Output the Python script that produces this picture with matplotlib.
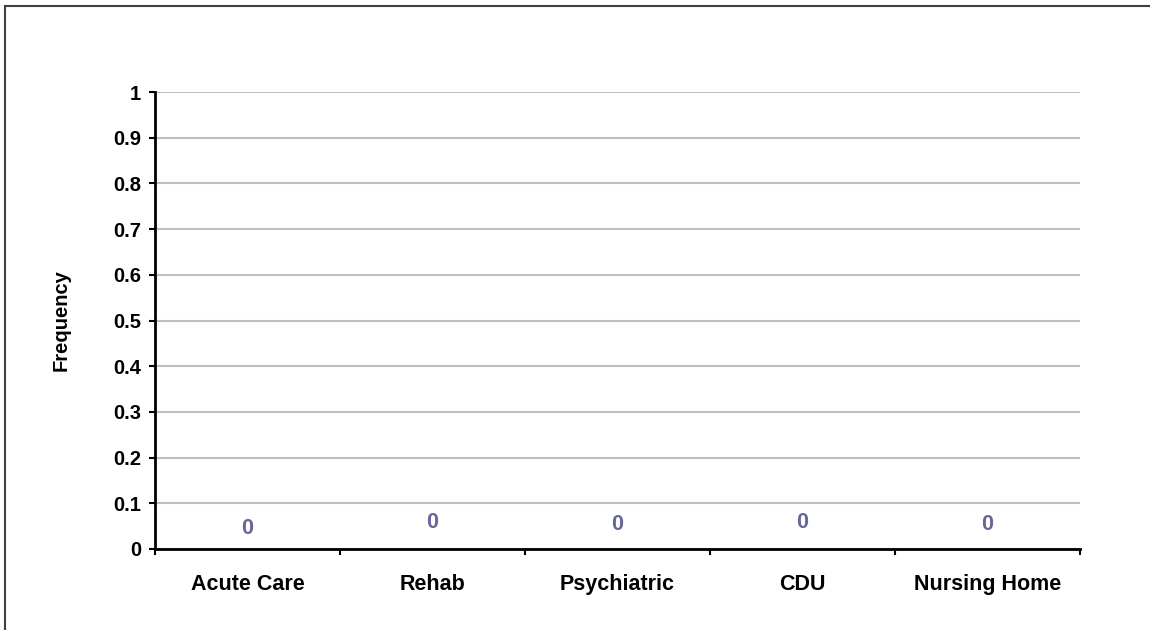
import numpy as np
import matplotlib.pyplot as plt
from matplotlib.patches import Rectangle

# chart data
categories = ['Acute Care', 'Rehab', 'Psychiatric', 'CDU', 'Nursing Home']
frequency = [0, 0, 0, 0, 0]
y_ticks = [0, 0.1, 0.2, 0.3, 0.4, 0.5, 0.6, 0.7, 0.8, 0.9, 1]
y_tick_labels = ['0', '0.1', '0.2', '0.3', '0.4', '0.5', '0.6', '0.7', '0.8', '0.9', '1']

plt.rcParams['font.family'] = ['Liberation Sans', 'DejaVu Sans']
plt.rcParams['font.weight'] = 'bold'

fig = plt.figure(figsize=(11.5, 6.3), dpi=100)
ax = fig.add_axes([155/1150, 81/630, 925/1150, 457/630])

# outer chart border (right and bottom edges fall outside the image)
fig.patches.append(Rectangle((5/1150, -0.1), 2, (630-6)/630 + 0.1, transform=fig.transFigure,
                             fill=False, edgecolor='#404040', linewidth=1.5))

x = np.arange(len(categories)) + 0.5
ax.bar(x, frequency, width=0.6, color='#9999ff')

# data labels, staggered a little above the zero bars
label_offsets = [20, 26, 24, 27, 24]
for xi, v, off in zip(x, frequency, label_offsets):
    ax.annotate(str(v), (xi, v), xytext=(0, off), textcoords='offset pixels',
                ha='center', va='center', fontsize=15.5, fontweight='bold', color='#666699')

ax.set_xlim(0, len(categories))
ax.set_ylim(0, 1)
ax.set_yticks(y_ticks)
ax.set_yticklabels(y_tick_labels)
ax.yaxis.grid(True, color='#c0c0c0', linewidth=1.5)
ax.set_axisbelow(True)

# category boundaries get tick marks, names sit between them
ax.set_xticks(np.arange(len(categories) + 1))
ax.set_xticklabels([])
ax.set_xticks(x, minor=True)
ax.set_xticklabels(categories, minor=True)
ax.tick_params(axis='x', which='major', direction='out', length=4, width=1.5)
ax.tick_params(axis='x', which='minor', length=0, pad=18, labelsize=15.5)
ax.tick_params(axis='y', direction='out', length=4, width=1.5, pad=6, labelsize=14.5)

for s in ['top', 'right']:
    ax.spines[s].set_visible(False)
for s in ['left', 'bottom']:
    ax.spines[s].set_linewidth(2)

ax.set_ylabel('Frequency', fontsize=14.5, fontweight='bold')
ax.yaxis.set_label_coords(-0.091, 0.5)

fig.savefig('out.png', dpi=100)
